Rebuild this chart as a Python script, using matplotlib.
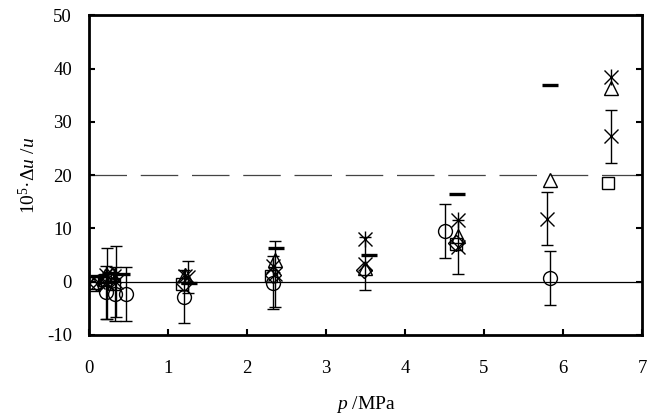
import numpy as np
import matplotlib.pyplot as plt

plt.rcParams['font.family'] = 'Liberation Serif'
plt.rcParams['mathtext.fontset'] = 'custom'
plt.rcParams['mathtext.rm'] = 'Liberation Serif'
plt.rcParams['mathtext.it'] = 'Liberation Serif:italic'
plt.rcParams['axes.unicode_minus'] = False

# circles
p_circ = [0.22, 0.33, 0.47, 1.2, 2.33, 4.5, 5.83]
v_circ = [-2.0, -2.3, -2.3, -2.8, -0.2, 9.5, 0.7]
e_circ = [5, 5, 5, 5, 5, 5, 5]

# squares
p_sq = [0.08, 0.2, 0.32, 1.18, 2.3, 4.65, 6.57]
v_sq = [-0.3, 0.3, -0.5, -0.5, 1.0, 7.0, 18.6]

# triangles
p_tri = [0.05, 0.2, 0.3, 1.22, 2.35, 3.5, 4.67, 5.83, 6.6]
v_tri = [-0.5, 1.0, 1.5, 1.2, 4.0, 2.5, 8.5, 19.0, 36.3]

# diamonds
p_dia = [0.1, 0.26, 1.2, 2.33, 3.48, 4.65]
v_dia = [-0.2, 0.5, -0.2, 1.2, 2.2, 7.3]

# crosses with error bars
p_x = [0.23, 0.34, 1.25, 2.35, 3.5, 4.67, 5.8, 6.6]
v_x = [-0.3, 0.0, 0.8, 1.5, 3.4, 6.5, 11.8, 27.3]
e_x = [6.7, 6.7, 3.0, 6.2, 5.0, 5.0, 5.0, 5.0]

# asterisks
p_ast = [0.12, 0.22, 0.32, 1.22, 2.33, 3.5, 4.67, 6.6]
v_ast = [0.0, 1.2, 1.0, 1.0, 3.0, 8.1, 11.5, 38.4]

# dashes
p_dash = [0.12, 0.27, 0.42, 1.27, 2.37, 3.55, 4.66, 5.84]
v_dash = [1.0, 1.6, 1.5, -0.3, 6.4, 5.0, 16.4, 37.0]

fig = plt.figure(figsize=(6.48, 4.16), dpi=100)
ax = fig.add_axes([0.137, 0.195, 0.854, 0.768])

ax.axhline(0, color='black', lw=0.9, zorder=1)
ax.axhline(20, color='#444444', lw=0.9, ls=(0, (30, 11)), zorder=1)

mk = dict(mfc='none', mec='black', ls='none', mew=1.0, zorder=3)
ax.errorbar(p_circ, v_circ, yerr=e_circ, fmt='o', ms=10, ecolor='black',
            elinewidth=1.0, capsize=4, capthick=1.0, **mk)
ax.errorbar(p_x, v_x, yerr=e_x, fmt='x', ms=10, ecolor='black',
            elinewidth=1.0, capsize=4, capthick=1.0, **mk)
ax.plot(p_sq, v_sq, marker='s', ms=9, **mk)
ax.plot(p_tri, v_tri, marker='^', ms=10, **mk)
ax.plot(p_dia, v_dia, marker='D', ms=8, **mk)
ax.plot(p_ast, v_ast, marker='x', ms=10, **mk)
ax.plot(p_ast, v_ast, marker='|', ms=12, **mk)
ax.plot(p_dash, v_dash, marker='_', ms=11, mec='black', ls='none', mew=2.4, zorder=3)

ax.set_xlim(0, 7)
ax.set_ylim(-10, 50)
ax.set_xticks(range(0, 8))
ax.set_yticks(range(-10, 51, 10))
ax.tick_params(direction='in', length=4, width=1.5, labelsize=13.5,
               right=True, left=True, top=False)
ax.tick_params(axis='x', pad=18)
ax.tick_params(axis='y', pad=12)
for s in ax.spines.values():
    s.set_linewidth(2)

ax.set_xlabel('$p$ /MPa', fontsize=14, labelpad=12)
ax.set_ylabel('10$^5$·Δ$u$ /$u$', fontsize=14, labelpad=6)

fig.savefig('out.png', dpi=100)
